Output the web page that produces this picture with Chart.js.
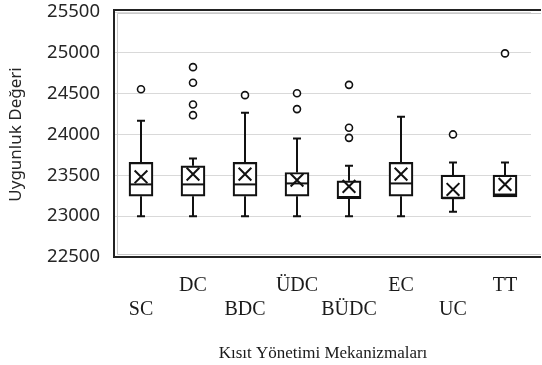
<!DOCTYPE html>
<html>
<head>
<meta charset="utf-8">
<script src="https://cdn.jsdelivr.net/npm/chart.js@4.4.1/dist/chart.umd.min.js"></script>
<style>
  html, body { margin: 0; padding: 0; background: #ffffff; }
  #wrap { width: 542px; height: 365px; }
</style>
</head>
<body>
<div id="wrap"><canvas id="c" width="542" height="365"></canvas></div>
<script>
// ---- Data ----
const categories = ['SC', 'DC', 'BDC', 'ÜDC', 'BÜDC', 'EC', 'UC', 'TT'];
const minValues    = [23000, 23000, 23000, 23000, 23000, 23000, 23053, 23235];
const q1Values     = [23245, 23245, 23245, 23245, 23215, 23245, 23215, 23235];
const medianValues = [23389, 23389, 23389, 23401, 23235, 23401, 23220, 23265];
const q3Values     = [23658, 23616, 23658, 23535, 23433, 23658, 23502, 23502];
const maxValues    = [24167, 23707, 24265, 23952, 23616, 24216, 23658, 23658];
const meanValues   = [23482, 23515, 23515, 23441, 23365, 23515, 23327, 23390];
const outlierValues = [
  [24555],
  [24825, 24633, 24368, 24237],
  [24482],
  [24506, 24311],
  [24608, 24082, 23959],
  [],
  [24001],
  [24993]
];
const yTicks = [22500, 23000, 23500, 24000, 24500, 25000, 25500];
const xTitle = 'Kısıt Yönetimi Mekanizmaları';
const yTitle = 'Uygunluk Değeri';

// ---- Derived datasets ----
const boxData = categories.map((c, i) => [q1Values[i], q3Values[i]]);
const meanData = categories.map((c, i) => ({ x: c, y: meanValues[i] }));
const outlierData = [];
outlierValues.forEach((arr, i) => arr.forEach(v => outlierData.push({ x: categories[i], y: v })));

const INK = '#111111';

const boxExtras = {
  id: 'boxExtras',
  afterDatasetDraw(chart, args) {
    if (args.index !== 2) return;
    const ctx = chart.ctx;
    const ys = chart.scales.y;
    ctx.save();
    ctx.strokeStyle = INK;
    ctx.lineWidth = 2;
    args.meta.data.forEach((bar, i) => {
      const x = bar.x;
      const half = bar.width / 2;
      const capHalf = 4;
      const ym = ys.getPixelForValue(medianValues[i]);
      ctx.beginPath();
      ctx.moveTo(x - half + 1, ym);
      ctx.lineTo(x + half - 1, ym);
      ctx.stroke();
      if (maxValues[i] > q3Values[i]) {
        const a = ys.getPixelForValue(q3Values[i]);
        const b = ys.getPixelForValue(maxValues[i]);
        ctx.beginPath();
        ctx.moveTo(x, a); ctx.lineTo(x, b);
        ctx.moveTo(x - capHalf, b); ctx.lineTo(x + capHalf, b);
        ctx.stroke();
      }
      if (minValues[i] < q1Values[i]) {
        const a = ys.getPixelForValue(q1Values[i]);
        const b = ys.getPixelForValue(minValues[i]);
        ctx.beginPath();
        ctx.moveTo(x, a); ctx.lineTo(x, b);
        ctx.moveTo(x - capHalf, b); ctx.lineTo(x + capHalf, b);
        ctx.stroke();
      }
    });
    ctx.restore();
  },
  afterDraw(chart) {
    const ctx = chart.ctx;
    const ca = chart.chartArea;
    ctx.save();
    ctx.strokeStyle = '#222222';
    ctx.lineWidth = 2;
    ctx.beginPath();
    ctx.moveTo(ca.right + 10, ca.top - 2);
    ctx.lineTo(ca.left - 1, ca.top - 2);
    ctx.lineTo(ca.left - 1, ca.bottom);
    ctx.lineTo(ca.right + 10, ca.bottom);
    ctx.stroke();
    ctx.strokeStyle = '#c8c8c8';
    ctx.lineWidth = 1;
    ctx.beginPath();
    ctx.moveTo(ca.right + 10, ca.top + 1.5);
    ctx.lineTo(ca.left + 2.5, ca.top + 1.5);
    ctx.lineTo(ca.left + 2.5, ca.bottom - 2.5);
    ctx.lineTo(ca.right + 10, ca.bottom - 2.5);
    ctx.stroke();
    ctx.restore();
  }
};

new Chart(document.getElementById('c'), {
  type: 'bar',
  data: {
    labels: categories,
    datasets: [
      {
        type: 'scatter',
        label: 'mean',
        data: meanData,
        pointStyle: 'crossRot',
        pointRadius: 9,
        pointBorderWidth: 2,
        borderColor: INK,
        backgroundColor: INK,
        order: 1
      },
      {
        type: 'scatter',
        label: 'outliers',
        data: outlierData,
        pointStyle: 'circle',
        pointRadius: 3.5,
        pointBorderWidth: 1.6,
        borderColor: INK,
        backgroundColor: '#ffffff',
        order: 2
      },
      {
        type: 'bar',
        label: 'box',
        data: boxData,
        backgroundColor: '#ffffff',
        borderColor: INK,
        borderWidth: 2.2,
        borderSkipped: false,
        barThickness: 24,
        order: 3
      }
    ]
  },
  options: {
    responsive: false,
    animation: false,
    events: [],
    layout: { padding: { left: 0, right: 3, top: 12, bottom: 0 } },
    plugins: { legend: { display: false }, tooltip: { enabled: false } },
    scales: {
      x: {
        type: 'category',
        offset: true,
        grid: { display: false, drawTicks: false },
        border: { display: false },
        ticks: {
          autoSkip: false,
          maxRotation: 0,
          minRotation: 0,
          padding: 17,
          color: '#1a1a1a',
          font: { family: 'Liberation Serif', size: 20, lineHeight: 1.2 },
          callback: function (value, index) {
            const name = categories[index];
            return index % 2 === 0 ? ['', name] : name;
          }
        },
        title: {
          display: true,
          text: xTitle,
          color: '#1a1a1a',
          font: { family: 'Liberation Serif', size: 17, lineHeight: 1.2 },
          padding: { top: 0, bottom: 1 }
        },
        afterFit: s => { s.height = 108; s.paddingLeft = 0; s.paddingRight = 0; }
      },
      y: {
        min: yTicks[0],
        max: yTicks[yTicks.length - 1],
        afterBuildTicks: s => { s.ticks = yTicks.map(v => ({ value: v })); },
        grid: { color: '#d9d9d9', lineWidth: 1, drawTicks: false },
        border: { display: false },
        ticks: {
          padding: 15,
          color: '#262626',
          font: { family: 'Noto Sans', size: 18.5 },
          callback: v => String(v)
        },
        title: {
          display: true,
          text: yTitle,
          color: '#262626',
          font: { family: 'Noto Sans', size: 17, lineHeight: 1.2 },
          padding: { top: 6, bottom: 0 }
        },
        afterFit: s => { s.width = 115; s.paddingTop = 0; s.paddingBottom = 0; }
      }
    }
  },
  plugins: [boxExtras]
});
</script>
</body>
</html>
